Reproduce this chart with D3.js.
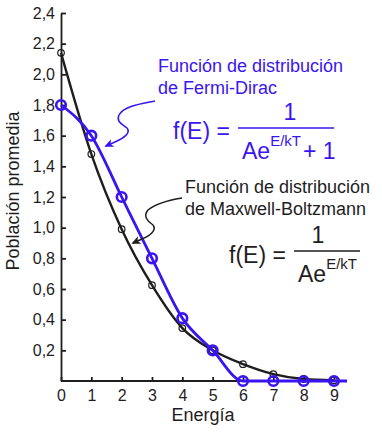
<!DOCTYPE html>
<html>
<head>
<meta charset="utf-8">
<script src="https://cdn.jsdelivr.net/npm/d3@7"></script>
<style>
  body { margin: 0; background: #fff; }
  svg { display: block; font-family: "Liberation Sans", Arial, Helvetica, sans-serif; }
</style>
</head>
<body>
<svg id="chart" width="382" height="435"></svg>
<script>
"use strict";

// energy levels
const energia = [0, 1, 2, 3, 4, 5, 6, 7, 8, 9];
// Maxwell-Boltzmann populations
const mbValues = [2.14, 1.48, 0.99, 0.625, 0.345, 0.2, 0.11, 0.045, 0.013, 0.004];
// Fermi-Dirac populations
const fdValues = [1.8, 1.6, 1.2, 0.8, 0.41, 0.2, 0, 0, 0, 0];
// the blue curve runs a little past the last point
const fdTail = [9.43, 0];

const yTicks = [0.2, 0.4, 0.6, 0.8, 1.0, 1.2, 1.4, 1.6, 1.8, 2.0, 2.2, 2.4];
const xTicks = energia;

const BLUE = "#3b14f2";
const INK = "#1f1d1e";

const svg = d3.select("#chart");

const x = d3.scaleLinear().domain([0, 9]).range([61, 334]);
const y = d3.scaleLinear().domain([0, 2.4]).range([381, 13]);

const comma = d => d3.format(".1f")(d).replace(".", ",");

// axes
const yAxis = d3.axisLeft(y)
  .tickValues(yTicks)
  .tickFormat(comma)
  .tickSizeInner(-5)
  .tickSizeOuter(0)
  .tickPadding(6);
const xAxis = d3.axisBottom(x)
  .tickValues(xTicks)
  .tickFormat(d3.format("d"))
  .tickSizeInner(-4)
  .tickSizeOuter(0)
  .tickPadding(9);

const gy = svg.append("g").attr("transform", `translate(${x(0)},0)`).call(yAxis);
const gx = svg.append("g").attr("transform", `translate(0,${y(0)})`).call(xAxis);
gx.select(".domain").attr("d", `M${x(0)},0H${x(9.2)}`);
[gx, gy].forEach(g => {
  g.selectAll(".domain, line").attr("stroke", INK).attr("stroke-width", 1.8);
  g.selectAll("text").attr("fill", INK).style("font-size", "16px");
});

// axis titles
svg.append("text")
  .attr("transform", `translate(19,191) rotate(-90)`)
  .attr("text-anchor", "middle")
  .style("font-size", "18px")
  .attr("fill", INK)
  .text("Población promedia");
svg.append("text")
  .attr("x", 203).attr("y", 421)
  .attr("text-anchor", "middle")
  .style("font-size", "18px")
  .attr("fill", INK)
  .text("Energía");

// curves
const mbPts = energia.map((e, i) => [e, mbValues[i]]);
const fdPts = energia.map((e, i) => [e, fdValues[i]]).concat([fdTail]);

const line = d3.line()
  .x(d => x(d[0]))
  .y(d => y(d[1]))
  .curve(d3.curveMonotoneX);

svg.append("path")
  .datum(mbPts)
  .attr("d", line)
  .attr("fill", "none")
  .attr("stroke", INK)
  .attr("stroke-width", 2.4);

svg.append("g").selectAll("circle")
  .data(mbPts)
  .join("circle")
  .attr("cx", d => x(d[0]))
  .attr("cy", d => y(d[1]))
  .attr("r", 3.3)
  .attr("fill", "none")
  .attr("stroke", INK)
  .attr("stroke-width", 1.2);

svg.append("path")
  .datum(fdPts)
  .attr("d", line)
  .attr("fill", "none")
  .attr("stroke", BLUE)
  .attr("stroke-width", 2.8);

svg.append("g").selectAll("circle")
  .data(fdPts.slice(0, energia.length))
  .join("circle")
  .attr("cx", d => x(d[0]))
  .attr("cy", d => y(d[1]))
  .attr("r", 4.8)
  .attr("fill", "none")
  .attr("stroke", BLUE)
  .attr("stroke-width", 2.6);

// arrow markers
const defs = svg.append("defs");
[["arrBlue", BLUE], ["arrInk", INK]].forEach(([id, col]) => {
  defs.append("marker")
    .attr("id", id)
    .attr("viewBox", "0 -5 10 10")
    .attr("refX", 8).attr("refY", 0)
    .attr("markerWidth", 9).attr("markerHeight", 9)
    .attr("markerUnits", "userSpaceOnUse")
    .attr("orient", "auto")
    .append("path")
    .attr("d", "M0,-4.5L10,0L0,4.5L2.5,0Z")
    .attr("fill", col);
});

svg.append("path")
  .attr("d", "M155,101C140,104 124,106 119,115C116,122 122,124 127,128C131,133 124,138 115,142L106,146")
  .attr("fill", "none")
  .attr("stroke", BLUE)
  .attr("stroke-width", 1.5)
  .attr("marker-end", "url(#arrBlue)");

svg.append("path")
  .attr("d", "M182,198C170,200 155,204 148,210C143,216 147,221 153,225C157,230 150,236 142,239L133,243")
  .attr("fill", "none")
  .attr("stroke", INK)
  .attr("stroke-width", 1.5)
  .attr("marker-end", "url(#arrInk)");

// labels
function label(lines, x0, y0, col) {
  svg.append("g").selectAll("text")
    .data(lines)
    .join("text")
    .attr("x", x0)
    .attr("y", (d, i) => y0 + i * 22)
    .attr("fill", col)
    .style("font-size", "18px")
    .text(d => d);
}
label(["Función de distribución", "de Fermi-Dirac"], 158, 72, BLUE);
label(["Función de distribución", "de Maxwell-Boltzmann"], 185, 193, INK);

// formulas
function formula(o) {
  const g = svg.append("g").attr("fill", o.col).style("font-size", "23px");
  g.append("text").attr("x", o.fx).attr("y", o.fy).text("f(E) =");
  g.append("line")
    .attr("x1", o.lx1).attr("x2", o.lx2)
    .attr("y1", o.ly).attr("y2", o.ly)
    .attr("stroke", o.col).attr("stroke-width", 1.6);
  g.append("text").attr("x", o.nx).attr("y", o.ly - 8)
    .attr("text-anchor", "middle").text("1");
  const den = g.append("text").attr("x", o.lx1 + 4).attr("y", o.ly + 31);
  den.append("tspan").text("Ae");
  den.append("tspan").attr("dy", -13).style("font-size", "15px").text("E/kT");
  if (o.plus) {
    den.append("tspan").attr("dy", 13).attr("dx", 2).text("+ 1");
  }
}
formula({ col: BLUE, fx: 173, fy: 139, lx1: 238, lx2: 334, ly: 128, nx: 290, plus: true });
formula({ col: INK, fx: 229, fy: 263, lx1: 294, lx2: 360, ly: 251, nx: 318, plus: false });
</script>
</body>
</html>
